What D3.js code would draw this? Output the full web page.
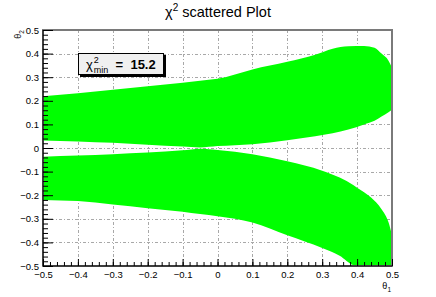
<!DOCTYPE html>
<html><head><meta charset="utf-8">
<script src="https://cdn.jsdelivr.net/npm/d3@7"></script>
<style>body{margin:0;background:#fff}svg{display:block}text{font-family:"Liberation Sans",Arial,sans-serif}</style>
</head><body><svg id="c" width="436" height="297"></svg>
<script>
// Upper band (theta2 > 0): outline
const upperX      = [-0.5,-0.4,-0.3,-0.2,-0.1,-0.05,0,0.1,0.2,0.28,0.33,0.375,0.42,0.45,0.47,0.49,0.5];
const upperTop    = [0.219,0.232,0.247,0.262,0.277,0.285,0.293,0.333,0.365,0.395,0.421,0.431,0.432,0.425,0.40,0.37,0.34];
const upperBottom = [0.032,0.028,0.022,0.014,0.006,0.002,0.008,0.016,0.033,0.05,0.062,0.078,0.10,0.115,0.133,0.152,0.162];
// Lower band (theta2 < 0)
const lowerX      = [-0.5,-0.4,-0.3,-0.2,-0.1,-0.05,0,0.1,0.2,0.3,0.35,0.39,0.4,0.44,0.47,0.49,0.5];
const lowerTop    = [-0.037,-0.032,-0.026,-0.019,-0.01,-0.003,-0.008,-0.026,-0.056,-0.096,-0.125,-0.158,-0.168,-0.21,-0.26,-0.315,-0.369];
const lowerBottom = [-0.22,-0.225,-0.239,-0.255,-0.27,-0.28,-0.289,-0.316,-0.37,-0.424,-0.457,-0.497,-0.5,-0.5,-0.5,-0.5,-0.5];
const xTicks = [-0.5,-0.4,-0.3,-0.2,-0.1,0,0.1,0.2,0.3,0.4,0.5];
const yTicks = [-0.5,-0.4,-0.3,-0.2,-0.1,0,0.1,0.2,0.3,0.4,0.5];
const chiMin = "15.2";

const svg = d3.select("#c");
const L=43,R=392,T=30,B=266;
const x = d3.scaleLinear().domain([-0.5,0.5]).range([L,R]);
const y = d3.scaleLinear().domain([-0.5,0.5]).range([B,T]);

// grid
const grid = svg.append("g").attr("stroke","#a8a8a8").attr("stroke-width",1).attr("stroke-dasharray","3,2,1,2");
grid.selectAll(".gx").data(xTicks.slice(1,-1)).join("line")
  .attr("x1",d=>Math.round(x(d))+0.5).attr("x2",d=>Math.round(x(d))+0.5).attr("y1",T).attr("y2",B);
grid.selectAll(".gy").data(yTicks.slice(1,-1)).join("line")
  .attr("y1",d=>Math.round(y(d))+0.5).attr("y2",d=>Math.round(y(d))+0.5).attr("x1",L).attr("x2",R);

svg.append("clipPath").attr("id","clip").append("rect").attr("x",L).attr("y",T).attr("width",R-L+1).attr("height",B-T);
const g = svg.append("g").attr("clip-path","url(#clip)");
const upper = upperX.map((v,i)=>({x:v,a:upperTop[i],b:upperBottom[i]}));
const lower = lowerX.map((v,i)=>({x:v,a:lowerTop[i],b:lowerBottom[i]}));
const area = d3.area().x(d=>x(d.x)).y0(d=>y(d.b)).y1(d=>y(d.a)).curve(d3.curveMonotoneX);
g.append("path").attr("d",area(upper)).attr("fill","#00ff00");
g.append("path").attr("d",area(lower)).attr("fill","#00ff00");

// frame
svg.append("rect").attr("x",L).attr("y",T).attr("width",R-L).attr("height",B-T)
  .attr("fill","none").attr("stroke","#7a7a7a").attr("stroke-width",2);

// axes (ROOT style, ticks inside)
const ax = svg.append("g");
const minorX = d3.range(0,51).map(i=>-0.5+i*0.02);
ax.append("g").call(d3.axisBottom(x).tickValues(minorX).tickSize(-4).tickFormat(""))
  .attr("transform",`translate(0,${B})`).call(s=>s.select(".domain").remove());
ax.append("g").call(d3.axisBottom(x).tickValues(xTicks).tickSize(-7).tickFormat(d3.format(".1f")).tickPadding(5))
  .attr("transform",`translate(0,${B})`).call(s=>s.select(".domain").attr("d",`M${L},0H${R}`))
  .call(s=>s.selectAll("text").attr("font-size",9.5).attr("fill","#000").attr("font-family","Liberation Sans, Arial, sans-serif").attr("dy","0.72em"));
ax.append("g").call(d3.axisLeft(y).tickValues(minorX).tickSize(-5).tickFormat(""))
  .attr("transform",`translate(${L},0)`).call(s=>s.select(".domain").remove());
ax.append("g").call(d3.axisLeft(y).tickValues(yTicks).tickSize(-10).tickFormat(d3.format(".1f")).tickPadding(4))
  .attr("transform",`translate(${L},0)`).call(s=>s.select(".domain").attr("d",`M0,${T}V${B}`))
  .call(s=>s.selectAll("text").attr("font-size",9.5).attr("fill","#000").attr("font-family","Liberation Sans, Arial, sans-serif").attr("x",-4));
ax.selectAll(".tick text").each(function(){const t=d3.select(this); if(t.text()==="0.0") t.text("0"); if(t.text()==="-0.0") t.text("0");});

// axis titles
const t1 = svg.append("text").attr("x",R-1).attr("y",289).attr("text-anchor","end").attr("font-size",9);
t1.append("tspan").text("θ"); t1.append("tspan").attr("font-size",6.5).attr("dy",3).text("1");
const t2 = svg.append("text").attr("transform",`translate(21,${T}) rotate(-90)`).attr("text-anchor","end").attr("font-size",9);
t2.append("tspan").text("θ"); t2.append("tspan").attr("font-size",6.5).attr("dy",3).text("2");

// title
const tt = svg.append("text").attr("x",218).attr("y",17).attr("text-anchor","middle").attr("font-size",14.5);
tt.append("tspan").text("χ"); tt.append("tspan").attr("font-size",10).attr("dy",-6).text("2");
tt.append("tspan").attr("dy",6).text(" scattered Plot");

// legend box
svg.append("rect").attr("x",80).attr("y",55).attr("width",86).attr("height",22).attr("fill","#000");
svg.append("rect").attr("x",78.5).attr("y",53.5).attr("width",85).attr("height",21).attr("fill","#f0f0f0").attr("stroke","#000").attr("stroke-width",1);
const lt = svg.append("text").attr("x",86).attr("y",69).attr("font-size",13);
lt.append("tspan").text("χ");
lt.append("tspan").attr("font-size",9).attr("dy",-6).attr("dx",1).text("2");
lt.append("tspan").attr("font-size",9).attr("dy",10).attr("dx",-5).text("min");
lt.append("tspan").attr("dy",-4).attr("font-weight","bold").text("  =  "+chiMin).attr("xml:space","preserve");
</script></body></html>
